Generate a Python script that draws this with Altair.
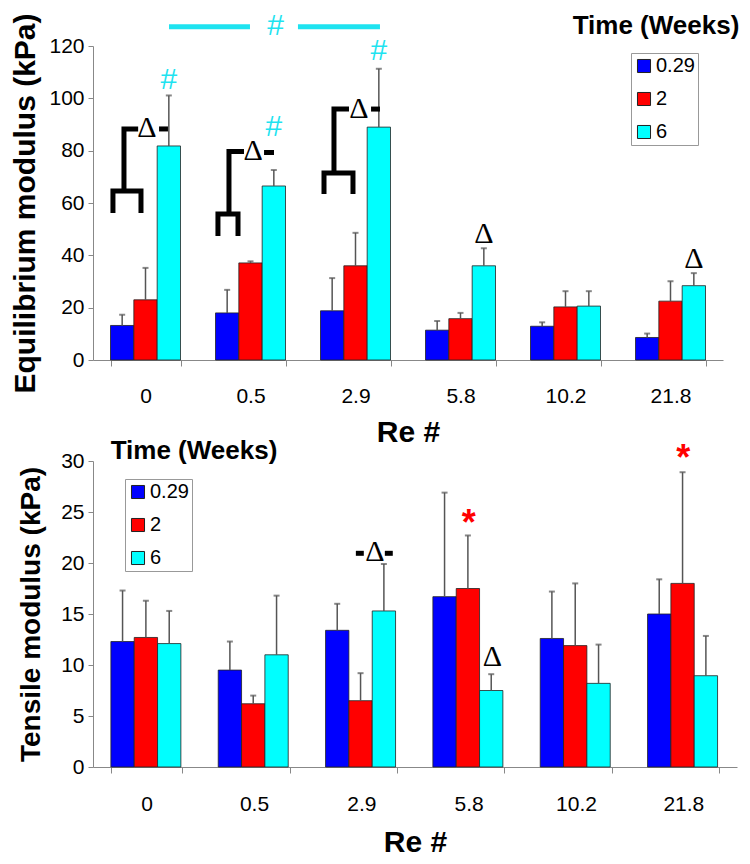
import altair as alt
import pandas as pd

FONT = "Liberation Sans"
SERIF = "Liberation Serif"

re_labels = ["0", "0.5", "2.9", "5.8", "10.2", "21.8"]
time_labels = ["0.29", "2", "6"]
bar_colors = ["#0000FF", "#FF0000", "#00FFFF"]

# Equilibrium modulus (kPa): means and upper SD
eq_mean_029 = [13.2, 18.0, 18.8, 11.4, 12.9, 8.6]
eq_mean_2 = [23.0, 37.1, 36.0, 15.8, 20.3, 22.5]
eq_mean_6 = [81.8, 66.5, 89.0, 36.0, 20.6, 28.4]
eq_sd_029 = [4.1, 8.8, 12.5, 3.5, 1.5, 1.5]
eq_sd_2 = [12.2, 0.6, 12.6, 2.2, 6.0, 7.6]
eq_sd_6 = [19.3, 6.1, 22.3, 6.7, 5.7, 4.8]

# Tensile modulus (kPa): means and upper SD
ts_mean_029 = [12.3, 9.5, 13.4, 16.7, 12.6, 15.0]
ts_mean_2 = [12.7, 6.2, 6.5, 17.5, 11.9, 18.0]
ts_mean_6 = [12.1, 11.0, 15.3, 7.5, 8.2, 8.95]
ts_sd_029 = [5.0, 2.8, 2.6, 10.2, 4.6, 3.4]
ts_sd_2 = [3.6, 0.8, 2.7, 5.2, 6.1, 10.9]
ts_sd_6 = [3.2, 5.8, 4.6, 1.6, 3.8, 3.9]

# Annotations, top panel (x in group units 0..6, y in kPa)
top_hash_x = [0.722, 1.722, 2.722, 1.74]
top_hash_y = [107.0, 89.0, 118.0, 127.8]
top_seg_x1 = [0.724, 1.952]
top_seg_x2 = [1.495, 2.733]
top_seg_y = [127.4, 127.4]
top_delta_x = [0.514, 1.524, 2.533, 3.722, 5.722]
top_delta_y = [88.8, 79.9, 96.0, 48.1, 38.6]
top_brackets = {
    "p0": [(0.190, 56.2), (0.190, 64.6), (0.457, 64.6), (0.457, 56.2)],
    "s0": [(0.295, 64.6), (0.295, 88.3), (0.43, 88.3)],
    "d0": [(0.629, 88.3), (0.714, 88.3)],
    "p1": [(1.19, 47.4), (1.19, 55.8), (1.381, 55.8), (1.381, 47.4)],
    "s1": [(1.295, 55.8), (1.295, 79.7), (1.438, 79.7)],
    "d1": [(1.629, 79.3), (1.724, 79.3)],
    "p2": [(2.20, 63.4), (2.20, 71.5), (2.476, 71.5), (2.476, 63.4)],
    "s2": [(2.295, 71.5), (2.295, 95.9), (2.438, 95.9)],
    "d2": [(2.648, 95.9), (2.733, 95.9)],
}

# Annotations, bottom panel
bot_delta_x = [2.626, 3.72]
bot_delta_y = [21.05, 10.75]
bot_brackets = {
    "dl": [(2.449, 20.95), (2.523, 20.95)],
    "dr": [(2.719, 20.95), (2.793, 20.95)],
}
bot_star_x = [3.5, 5.5]
bot_star_y = [23.8, 30.15]


def bars_df(means, sds):
    rows = []
    for t, m_list, s_list in zip(time_labels, means, sds):
        for r, m, s in zip(re_labels, m_list, s_list):
            rows.append({"re": r, "time": t, "v": m, "upper": m + s})
    return pd.DataFrame(rows)


def path_df(paths):
    rows = []
    for name, pts in paths.items():
        for i, (gx, gy) in enumerate(pts):
            rows.append({"path": name, "i": i, "g": gx, "v": gy})
    return pd.DataFrame(rows)


def pts_df(xs, ys):
    return pd.DataFrame({"g": xs, "v": ys})


def panel(df, ymax, ystep, ytitle, ytitle_size, w, h, legend_xy, title_xy,
          anns, xlab_pad, xtitle_pad, ytitle_pad):
    yscale = alt.Scale(domain=[0, ymax], nice=False)
    yaxis = alt.Axis(title=ytitle, values=list(range(0, ymax + 1, ystep)),
                     labelFont=FONT, labelFontSize=21, labelColor="black",
                     labelPadding=4, tickSize=5, tickColor="#888",
                     domainColor="#888", grid=False,
                     titleFont=FONT, titleFontSize=ytitle_size,
                     titleFontWeight="bold",
                     titleColor="black", titlePadding=ytitle_pad)
    y = alt.Y("v:Q", scale=yscale, axis=yaxis)
    x = alt.X("re:N", sort=re_labels,
              scale=alt.Scale(paddingInner=1 / 3, paddingOuter=1 / 6),
              axis=alt.Axis(title="Re #", labelAngle=0, tickBand="extent",
                            labelFont=FONT, labelFontSize=21, labelColor="black",
                            labelPadding=xlab_pad, tickSize=6, tickColor="#888",
                            domainColor="#888", grid=False,
                            titleFont=FONT, titleFontSize=30,
                            titleFontWeight="bold", titleColor="black",
                            titlePadding=xtitle_pad))
    xo = alt.XOffset("time:N", sort=time_labels,
                     scale=alt.Scale(paddingInner=0, paddingOuter=0))
    base = alt.Chart(df)
    bars = base.mark_bar(stroke="#222", strokeWidth=0.8).encode(
        x=x, xOffset=xo, y=y,
        color=alt.Color("time:N", sort=time_labels,
                        scale=alt.Scale(domain=time_labels, range=bar_colors),
                        legend=alt.Legend(orient="none", legendX=legend_xy[0],
                                          legendY=legend_xy[1], title=None,
                                          labelFont=FONT, labelFontSize=20,
                                          labelColor="black",
                                          symbolType="square", symbolSize=170,
                                          symbolStrokeColor="#222",
                                          symbolStrokeWidth=1, rowPadding=13,
                                          padding=3, labelOffset=2,
                                          strokeColor="#999",
                                          fillColor="white")))
    errs = base.mark_rule(color="#555", strokeWidth=1.5).encode(
        x=x, xOffset=xo, y=y, y2="upper:Q")
    caps = base.mark_tick(color="#555", thickness=2, size=6).encode(
        x=x, xOffset=xo, y=alt.Y("upper:Q", scale=yscale, axis=yaxis))
    data_layer = alt.layer(bars, errs, caps)

    gx = alt.X("g:Q", scale=alt.Scale(domain=[0, 6], nice=False, zero=False),
               axis=None)
    ann_layers = []
    for kind, d, style in anns:
        c = alt.Chart(d)
        if kind == "text":
            m = c.mark_text(baseline="middle", align="center", **style).encode(
                x=gx, y=y)
        elif kind == "seg":
            m = c.mark_rule(**style).encode(x=gx, x2="g2:Q", y=y)
        else:
            m = c.mark_line(**style).encode(x=gx, y=y, detail="path:N",
                                            order="i:Q")
        ann_layers.append(m)
    title = alt.Chart(pd.DataFrame({"t": ["Time (Weeks)"]})).mark_text(
        font=FONT, fontSize=26, fontWeight="bold", color="black",
        baseline="middle", align="center").encode(
        text="t:N", x=alt.value(title_xy[0]), y=alt.value(title_xy[1]))
    ann_layer = alt.layer(*ann_layers, title)
    return alt.layer(data_layer, ann_layer).resolve_scale(
        x="independent").properties(width=w, height=h)


line_style = dict(color="black", strokeWidth=5, strokeJoin="miter",
                  strokeCap="butt")
cyan = "#1EE3F0"

seg = pd.DataFrame({"g": top_seg_x1, "g2": top_seg_x2, "v": top_seg_y})

top_anns = [
    ("text", pts_df(top_hash_x, top_hash_y),
     dict(text="#", font=FONT, fontSize=30, color=cyan)),
    ("seg", seg, dict(color=cyan, strokeWidth=5)),
    ("line", path_df(top_brackets), line_style),
    ("text", pts_df(top_delta_x, top_delta_y),
     dict(text="Δ", font=SERIF, fontSize=30, color="black")),
]
bot_anns = [
    ("line", path_df(bot_brackets), line_style),
    ("text", pts_df(bot_delta_x, bot_delta_y),
     dict(text="Δ", font=SERIF, fontSize=30, color="black")),
    ("text", pts_df(bot_star_x, bot_star_y),
     dict(text="*", font=FONT, fontSize=36, fontWeight="bold", color="red")),
]

top = panel(bars_df([eq_mean_029, eq_mean_2, eq_mean_6],
                    [eq_sd_029, eq_sd_2, eq_sd_6]),
            120, 20, "Equilibrium modulus (kPa)", 30, 630, 314,
            (538, 7), (563, -20), top_anns, 19, 11, 8)
bottom = panel(bars_df([ts_mean_029, ts_mean_2, ts_mean_6],
                       [ts_sd_029, ts_sd_2, ts_sd_6]),
               30, 5, "Tensile modulus (kPa)", 28, 644, 306,
               (32, 18), (101, -10), bot_anns, 20, 13, 15)

chart = alt.vconcat(top, bottom, spacing=-9).resolve_scale(
    color="independent").configure_view(stroke=None).properties(
    padding={"left": 2, "top": 2, "right": 0, "bottom": 0})

chart.save("out.html", embed_options={"renderer": "svg", "actions": False})
